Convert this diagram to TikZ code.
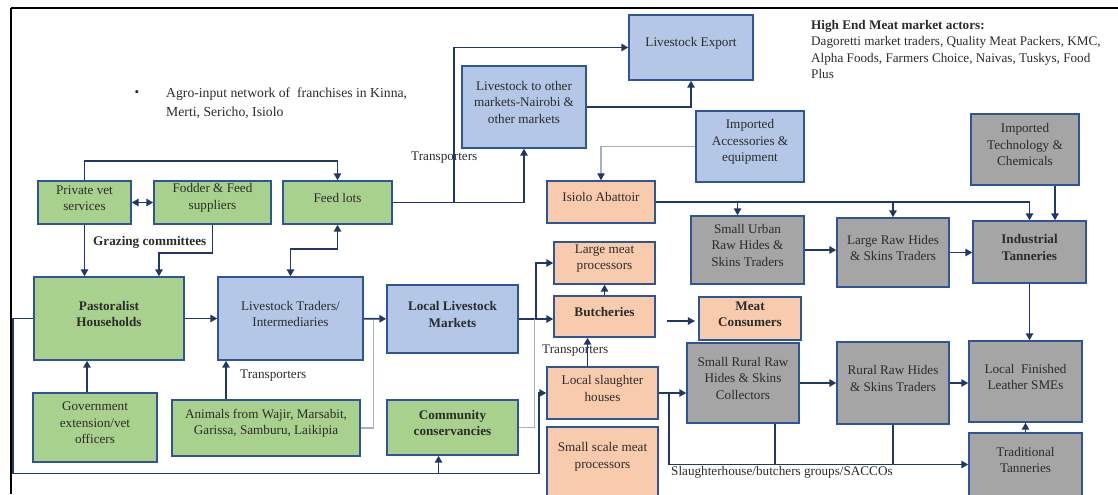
\documentclass[tikz,border=0pt]{standalone}
\usepackage{fontspec}
\setmainfont{Liberation Serif}
\usetikzlibrary{arrows.meta, calc, fit}
\definecolor{agrofill}{HTML}{A9D18E}
\definecolor{tradefill}{HTML}{B4C7E7}
\definecolor{meatfill}{HTML}{F8CBAD}
\definecolor{hidefill}{HTML}{A5A5A5}
\definecolor{boxline}{HTML}{2F5597}
\definecolor{flow}{HTML}{203864}
\definecolor{feintline}{HTML}{A7B1C6}
\definecolor{txt}{HTML}{2B2B2B}
\newcommand{\boxfont}{\fontsize{7.5}{9.4}\selectfont}
\begin{document}
\begin{tikzpicture}[x=0.02cm, y=-0.02cm, font=\boxfont, text=txt,
  box/.style={draw=boxline, line width=0.8pt, inner sep=0pt, align=center},
  agro/.style={box, fill=agrofill},
  trade/.style={box, fill=tradefill},
  meat/.style={box, fill=meatfill},
  hide/.style={box, fill=hidefill},
  bold/.style={font=\boxfont\bfseries},
  arr/.style={draw=flow, line width=1.1pt, -{Triangle[length=4pt,width=4.2pt]}},
  darr/.style={draw=flow, line width=1.1pt, {Triangle[length=4pt,width=4.2pt]}-{Triangle[length=4pt,width=4.2pt]}},
  link/.style={draw=flow, line width=1.1pt},
  feint/.style={draw=feintline, line width=0.6pt}]
\useasboundingbox (0,0) rectangle (1118,494);

% frame
\draw[line width=1.6pt] (11,8) -- (1118,8);
\draw[line width=1pt] (11,8) -- (11,494);

% producers
\node[agro, fit={(38,181) (131,224)}] (vet) {Private vet\\services};
\node[agro, fit={(154,181) (271,224)}] (fodder) {Fodder \& Feed\\suppliers};
\node[agro, fit={(283,181) (392,224)}] (feedlot) {Feed lots};
\node[agro, bold, fit={(34,277) (184,360)}] (pastoral) {Pastoralist\\Households};
\node[agro, fit={(33,393) (157,462)}] (gov) {Government\\extension/vet\\officers};
\node[agro, fit={(172,400) (360,456)}] (animals) {Animals from Wajir, Marsabit,\\Garissa, Samburu, Laikipia};
\node[agro, bold, fit={(387,400) (518,455)}] (conserv) {Community\\conservancies};

% livestock trade
\node[trade, fit={(218,277) (363,360)}] (traders) {Livestock Traders/\\Intermediaries};
\node[trade, bold, fit={(387,285) (518,353)}] (markets) {Local Livestock\\Markets};
\node[trade, fit={(462,66) (586,148)}] (othermkt) {Livestock to other\\markets-Nairobi \&\\other markets};
\node[trade, fit={(629,15) (753,80)}] (export) {Livestock Export};
\node[trade, fit={(696,111) (804,182)}] (access) {Imported\\Accessories \&\\equipment};

% meat
\node[meat, fit={(547,181) (655,223)}] (abattoir) {Isiolo Abattoir};
\node[meat, fit={(554,242) (655,284)}] (largemeat) {Large meat\\processors};
\node[meat, bold, fit={(554,296) (655,337)}] (butcher) {Butcheries};
\node[meat, bold, fit={(699,297) (801,340)}] (consumer) {Meat\\Consumers};
\node[meat, fit={(547,367) (658,419)}] (slaughter) {Local slaughter\\houses};
\node[meat, fit={(547,427) (658,496)}] (smallmeat) {Small scale meat\\processors};

% hides and skins
\node[hide, fit={(691,216) (804,284)}] (urbanhide) {Small Urban\\Raw Hides \&\\Skins Traders};
\node[hide, fit={(837,218) (949,287)}] (largehide) {Large Raw Hides\\\& Skins Traders};
\node[hide, bold, fit={(973,221) (1086,283)}] (industrial) {Industrial\\Tanneries};
\node[hide, fit={(971,114) (1079,185)}] (imptech) {Imported\\Technology \&\\Chemicals};
\node[hide, fit={(687,343) (799,423)}] (ruralcoll) {Small Rural Raw\\Hides \& Skins\\Collectors};
\node[hide, fit={(837,342) (949,424)}] (ruralhide) {Rural Raw Hides\\\& Skins Traders};
\node[hide, fit={(969,341) (1082,422)}] (leather) {Local\ \ Finished\\Leather SMEs};
\node[hide, fit={(969,433) (1082,496)}] (tradtan) {Traditional\\Tanneries};

% notes
\node (bullet) at (137,94) {\textbullet};
\node[anchor=west, align=left, font=\fontsize{7.8}{10.8}\selectfont] (agroinput) at (160,103) {Agro-input network of\ \ franchises in Kinna,\\Merti, Sericho, Isiolo};
\node[anchor=north west, align=left] (highend) at (805,14) {\textbf{High End Meat market actors:}\\Dagoretti market traders, Quality Meat Packers, KMC,\\Alpha Foods, Farmers Choice, Naivas, Tuskys, Food\\Plus};
\node[anchor=west, font=\boxfont\bfseries] (grazing) at (87,242) {Grazing committees};
\node[anchor=west] (transp1) at (405,158) {Transporters};
\node[anchor=west] (transp2) at (234,376) {Transporters};
\node[anchor=west] (transp3) at (536,351) {Transporters};
\node[anchor=west] (saccos) at (665,472) {Slaughterhouse/butchers groups/SACCOs};

% inputs
\draw[arr] (vet.north) -- ++(0,-19) -| (feedlot.north);
\draw[darr] (vet) -- (fodder);
\draw[arr] (vet.south) -- (vet.south |- pastoral.north);
\draw[arr] (fodder.south) -- ++(0,28) -| ($(pastoral.north)+(50,0)$);
\draw[darr] (traders.north) -- ++(0,-27) -| (feedlot.south);
\coordinate (g1) at ($(gov.north)+(-8,0)$);
\draw[arr] (g1) -- (g1 |- pastoral.south);

% livestock flow
\draw[arr] (pastoral) -- (traders);
\coordinate (a1) at ($(animals.north)+(-40,0)$);
\draw[arr] (a1) -- (a1 |- traders.south);
\draw[feint] (animals.east) -| ($(traders.east)+(10,0)$);
\draw[arr] (traders) -- (markets);
\draw[arr] (markets.east) -- (markets.east -| butcher.west);
\draw[arr] ($(markets.east)+(17,0)$) |- (largemeat.west);
\draw[feint] (conserv.east) -| ($(markets.east)+(16,0)$);
\draw[arr] (pastoral.west) -| ++(-20,155) coordinate (low) -| ($(slaughter.west)+(-7,0)$) -- (slaughter.west);
\coordinate (c1) at ($(conserv.south)+(-14,0)$);
\draw[arr] (c1 |- low) -- (c1);
\draw[arr] (feedlot.east) -- ++(61,0) |- (export.west);
\draw[arr] (feedlot.east) -| (othermkt.south);
\draw[arr] (othermkt.east) -| (export.south);

% meat flow
\draw[feint, -{Triangle[length=4pt,width=4.2pt,color=flow]}] (access.west) -| (abattoir.north);
\draw[arr] (butcher) -- (largemeat);
\coordinate (s1) at ($(slaughter.north)+(-15,0)$);
\draw[arr] (s1) -- (s1 |- butcher.south);
\coordinate (toconsumer) at (667,321);
\coordinate (atconsumer) at (695,321);
\draw[arr, line width=0.6pt] (toconsumer) -- (atconsumer);

% hides flow
\draw[arr] (abattoir.east) -| (industrial.north);
\coordinate (u1) at ($(urbanhide.north)+(-10,0)$);
\draw[arr] (u1 |- abattoir.east) -- (u1);
\draw[arr] (largehide.north |- abattoir.east) -- (largehide.north);
\coordinate (t1) at ($(imptech.south)+(30,0)$);
\draw[arr] (t1) -- (t1 |- industrial.north);
\draw[arr] (urbanhide.east) -- (urbanhide.east -| largehide.west);
\draw[arr] (largehide.east) -- (largehide.east -| industrial.west);
\draw[arr] (industrial.south) -- (industrial.south |- leather.north);
\draw[arr] (slaughter.east) -- (slaughter.east -| ruralcoll.west);
\draw[arr] ($(slaughter.east)+(10,0)$) |- (tradtan.west);
\coordinate (r1) at ($(ruralcoll.south)+(32,0)$);
\draw[link] (r1) -- (r1 |- tradtan.west);
\draw[link] (ruralhide.south) -- (ruralhide.south |- tradtan.west);
\draw[arr] (ruralcoll.east) -- (ruralcoll.east -| ruralhide.west);
\draw[arr] (ruralhide.east) -- (ruralhide.east -| leather.west);
\draw[arr] (tradtan) -- (leather);

\end{tikzpicture}
\end{document}
